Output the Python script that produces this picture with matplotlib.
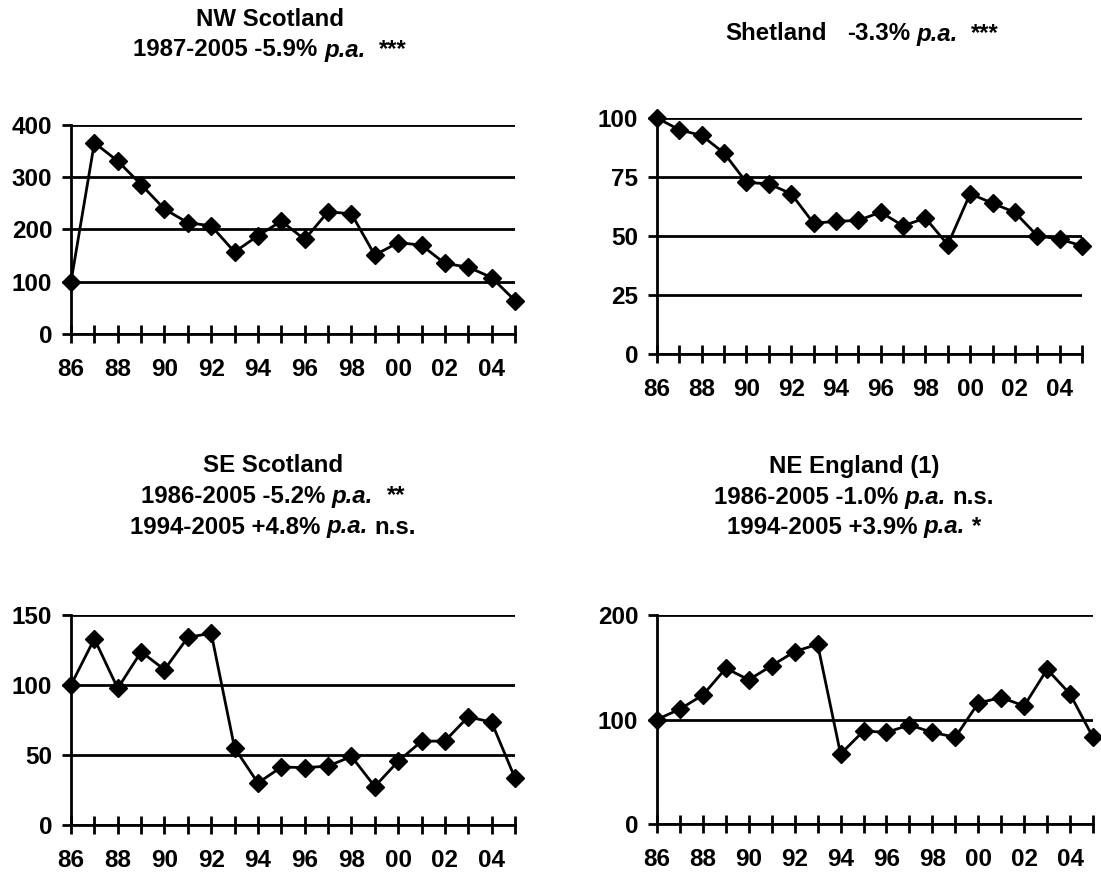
import matplotlib
matplotlib.use('Agg')
import matplotlib.pyplot as plt

plt.rcParams['font.family'] = ['Liberation Sans', 'DejaVu Sans']
plt.rcParams['font.weight'] = 'bold'

W, H = 1101, 872

years = list(range(1986, 2006))
year_labels = ['86', '88', '90', '92', '94', '96', '98', '00', '02', '04']

nw_scotland = [100, 366, 331, 286, 239, 213, 207, 157, 188, 216,
               181, 234, 230, 151, 175, 170, 135, 128, 108, 64]
shetland = [100, 95.0, 92.6, 85.1, 72.7, 72.1, 67.9, 55.4, 56.2, 56.6,
            60.1, 54.3, 57.6, 46.3, 67.9, 63.9, 60.0, 50.1, 48.7, 45.8]
se_scotland = [100, 133, 97.6, 123.7, 111, 134, 137, 55, 30, 41.4,
               41, 42, 49, 27.5, 45.5, 59.8, 60, 77.3, 73.4, 33.5]
ne_england = [100, 110, 123.4, 149, 138, 151.5, 165, 172, 67, 89,
              87.7, 94.7, 87.7, 83, 115.8, 121, 113, 148, 124.4, 83]

# panel box in pixels: left, right, top, bottom
boxes = [(71, 515, 125, 334), (657, 1082, 118, 354),
         (71, 515, 615, 825), (657, 1093, 615, 824)]
series = [nw_scotland, shetland, se_scotland, ne_england]
yticks = [[0, 100, 200, 300, 400], [0, 25, 50, 75, 100],
          [0, 50, 100, 150], [0, 100, 200]]

# title lines: (centre x, [(centre y, [(text, style, gap_after_in_spaces)])])
titles = [
    (270, [(20, [('NW Scotland', 'normal', 0)]),
           (50, [('1987-2005 -5.9%', 'normal', 1), ('p.a.', 'italic', 2), ('***', 'normal', 0)])]),
    (862, [(34, [('Shetland', 'normal', 3), ('-3.3%', 'normal', 1), ('p.a.', 'italic', 2), ('***', 'normal', 0)])]),
    (273, [(465, [('SE Scotland', 'normal', 0)]),
           (496, [('1986-2005 -5.2%', 'normal', 1), ('p.a.', 'italic', 2), ('**', 'normal', 0)]),
           (527, [('1994-2005 +4.8%', 'normal', 1), ('p.a.', 'italic', 1), ('n.s.', 'normal', 0)])]),
    (854, [(466, [('NE England (1)', 'normal', 0)]),
           (497, [('1986-2005 -1.0%', 'normal', 1), ('p.a.', 'italic', 1), ('n.s.', 'normal', 0)]),
           (527, [('1994-2005 +3.9%', 'normal', 1), ('p.a.', 'italic', 1), ('*', 'normal', 0)])]),
]
TITLE_SIZE = 17.3
TICK_SIZE = 17.5

fig = plt.figure(figsize=(W / 100, H / 100), dpi=100)
fig.patch.set_facecolor('white')

for (l, r, t, b), vals, yt in zip(boxes, series, yticks):
    ax = fig.add_axes([l / W, 1 - b / H, (r - l) / W, (b - t) / H])
    ax.plot(years, vals, color='black', lw=2, marker='D', ms=9,
            mfc='black', mec='black', clip_on=False, zorder=5)
    ax.set_xlim(1986, 2005)
    ax.set_ylim(yt[0], yt[-1])
    ax.set_yticks(yt)
    ax.set_yticklabels([str(v) for v in yt])
    ax.set_xticks(years)
    ax.set_xticklabels([year_labels[i // 2] if i % 2 == 0 else '' for i in range(len(years))])
    for s in ['top', 'right']:
        ax.spines[s].set_visible(False)
    for s in ['left', 'bottom']:
        ax.spines[s].set_linewidth(2)
        ax.spines[s].set_zorder(3)
    ax.yaxis.grid(True, color='black', lw=2)
    ax.set_axisbelow(True)
    ax.tick_params(axis='y', direction='out', length=6.5, width=2, pad=7, labelsize=TICK_SIZE)
    ax.tick_params(axis='x', direction='inout', length=13, width=2, pad=11, labelsize=TICK_SIZE)
    for lab in ax.get_xticklabels() + ax.get_yticklabels():
        lab.set_fontweight('bold')

renderer = fig.canvas.get_renderer()


def text_width(s, style):
    t = fig.text(0, 0, s, fontsize=TITLE_SIZE, fontweight='bold', style=style)
    w = t.get_window_extent(renderer).width
    t.remove()
    return w


space_w = text_width('a a', 'normal') - text_width('aa', 'normal')

for xc, lines in titles:
    for yc, parts in lines:
        made = []
        total = 0
        for s, style, gap in parts:
            t = fig.text(0, 1 - yc / H, s, fontsize=TITLE_SIZE, fontweight='bold',
                         style=style, ha='left', va='center')
            w = t.get_window_extent(renderer).width
            made.append((t, w, gap))
            total += w + gap * space_w
        total -= made[-1][2] * space_w
        x = xc - total / 2
        for t, w, gap in made:
            t.set_x(x / W)
            x += w + gap * space_w

fig.savefig('out.png', dpi=100, facecolor='white')
